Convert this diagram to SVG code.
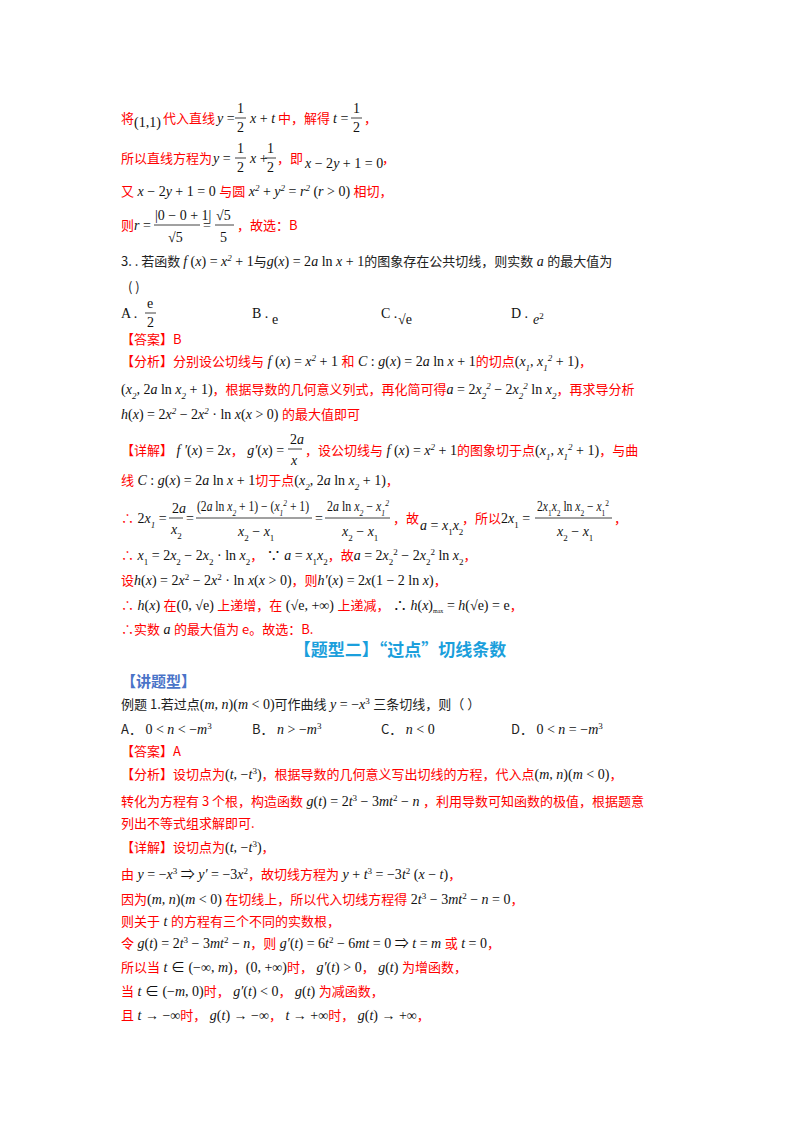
<svg xmlns="http://www.w3.org/2000/svg" width="800" height="1132" viewBox="0 0 800 1132">
<style>
text{font-family:"Noto Sans CJK SC","Liberation Sans",sans-serif;font-size:13px}
.r{fill:#ff0000}
.k{fill:#222}
.m{font-family:"Liberation Serif","Noto Sans CJK SC",serif;font-style:italic;fill:#111;font-size:14px}
.n{font-style:normal}
.s{font-size:9px;baseline-shift:sub}
.p{font-size:9px;baseline-shift:super}
.fl{stroke:#111;stroke-width:0.8}
.h{fill:#1b9fdc;font-weight:bold;font-size:17px}
.b{fill:#4a74c8;font-weight:bold;font-size:15px}
</style>
<rect width="800" height="1132" fill="#fff"/>
<g id="part1">
<text x="121" y="123" class="r">将</text>
<text x="134" y="127" class="m"><tspan class="n">(1,1)</tspan></text>
<text x="163" y="123" class="r">代入直线</text>
<text x="217" y="123" class="m">y <tspan class="n">=</tspan></text>
<text x="237" y="113" class="m n">1</text><line x1="235" y1="118" x2="246" y2="118" class="fl"/><text x="237" y="132" class="m n">2</text>
<text x="250" y="123" class="m">x <tspan class="n">+</tspan> t</text>
<text x="278" y="123" class="r">中，解得</text>
<text x="333" y="123" class="m">t <tspan class="n">=</tspan></text>
<text x="353" y="113" class="m n">1</text><line x1="351" y1="118" x2="362" y2="118" class="fl"/><text x="353" y="132" class="m n">2</text>
<text x="364" y="123" class="r">，</text>

<text x="121" y="163" class="r">所以直线方程为</text>
<text x="213" y="163" class="m">y <tspan class="n">=</tspan></text>
<text x="237" y="153" class="m n">1</text><line x1="235" y1="158" x2="246" y2="158" class="fl"/><text x="237" y="172" class="m n">2</text>
<text x="250" y="163" class="m">x <tspan class="n">+</tspan></text>
<text x="267" y="153" class="m n">1</text><line x1="265" y1="158" x2="276" y2="158" class="fl"/><text x="267" y="172" class="m n">2</text>
<text x="277" y="163" class="r">，即</text>
<text x="305" y="168" class="m">x <tspan class="n">− 2</tspan>y <tspan class="n">+ 1 = 0</tspan></text>
<text x="382" y="163" class="r">，</text>

<text x="121" y="196" class="r">又<tspan class="m"> x <tspan class="n">− 2</tspan>y <tspan class="n">+ 1 = 0 </tspan></tspan>与圆<tspan class="m"> x<tspan class="p">2</tspan> <tspan class="n">+</tspan> y<tspan class="p">2</tspan> <tspan class="n">=</tspan> r<tspan class="p">2</tspan> <tspan class="n">(</tspan>r <tspan class="n">&gt; 0) </tspan></tspan>相切，</text>

<text x="121" y="230" class="r">则</text>
<text x="134" y="230" class="m">r <tspan class="n">=</tspan></text>
<text x="155" y="220" class="m n">|0 − 0 + 1|</text><line x1="154" y1="225" x2="200" y2="225" class="fl"/><text x="168" y="242" class="m n">√5</text>
<text x="203" y="230" class="m n">=</text>
<text x="216" y="220" class="m n">√5</text><line x1="215" y1="225" x2="234" y2="225" class="fl"/><text x="220" y="242" class="m n">5</text>
<text x="237" y="230" class="r">，故选：B</text>

<text x="121" y="266" class="k">3. . 若函数 <tspan class="m">f <tspan class="n">(</tspan>x<tspan class="n">) =</tspan> x<tspan class="p">2</tspan> <tspan class="n">+ 1</tspan></tspan>与<tspan class="m">g<tspan class="n">(</tspan>x<tspan class="n">) = 2</tspan>a <tspan class="n">ln </tspan>x <tspan class="n">+ 1</tspan></tspan>的图象存在公共切线，则实数<tspan class="m"> a </tspan>的最大值为</text>
<text x="128" y="292" class="k">(       )</text>

<text x="121" y="318" class="m n">A .</text>
<text x="147" y="308" class="m n">e</text><line x1="145" y1="313" x2="156" y2="313" class="fl"/><text x="147" y="327" class="m n">2</text>
<text x="252" y="318" class="m n">B .</text><text x="272" y="324" class="m n">e</text>
<text x="381" y="318" class="m n">C .</text><text x="398" y="324" class="m n">√e</text>
<text x="511" y="318" class="m n">D .</text><text x="533" y="324" class="m">e<tspan class="p n">2</tspan></text>

<text x="121" y="344" class="r">【答案】B</text>
<text x="121" y="366" class="r">【分析】分别设公切线与<tspan class="m"> f <tspan class="n">(</tspan>x<tspan class="n">) =</tspan> x<tspan class="p">2</tspan> <tspan class="n">+ 1 </tspan></tspan>和<tspan class="m"> C <tspan class="n">:</tspan> g<tspan class="n">(</tspan>x<tspan class="n">) = 2</tspan>a <tspan class="n">ln </tspan>x <tspan class="n">+ 1</tspan></tspan>的切点<tspan class="m"><tspan class="n">(</tspan>x<tspan class="s">1</tspan>, x<tspan class="s">1</tspan><tspan class="p">2</tspan> <tspan class="n">+ 1)</tspan></tspan>，</text>
<text x="121" y="394" class="r"><tspan class="m"><tspan class="n">(</tspan>x<tspan class="s">2</tspan>, <tspan class="n">2</tspan>a <tspan class="n">ln </tspan>x<tspan class="s">2</tspan> <tspan class="n">+ 1)</tspan></tspan>，根据导数的几何意义列式，再化简可得<tspan class="m">a <tspan class="n">= 2</tspan>x<tspan class="s">2</tspan><tspan class="p">2</tspan> <tspan class="n">− 2</tspan>x<tspan class="s">2</tspan><tspan class="p">2</tspan> <tspan class="n">ln </tspan>x<tspan class="s">2</tspan></tspan>，再求导分析</text>
<text x="121" y="419" class="r"><tspan class="m">h<tspan class="n">(</tspan>x<tspan class="n">) = 2</tspan>x<tspan class="p">2</tspan> <tspan class="n">− 2</tspan>x<tspan class="p">2</tspan> <tspan class="n">· ln </tspan>x<tspan class="n">(</tspan>x <tspan class="n">&gt; 0) </tspan></tspan>的最大值即可</text>

<text x="121" y="455" class="r">【详解】<tspan class="m"> f ′<tspan class="n">(</tspan>x<tspan class="n">) = 2</tspan>x</tspan>，<tspan class="m">  g′<tspan class="n">(</tspan>x<tspan class="n">) =</tspan></tspan></text>
<text x="290" y="444" class="m"><tspan class="n">2</tspan>a</text><line x1="288" y1="449" x2="302" y2="449" class="fl"/><text x="291" y="465" class="m">x</text>
<text x="305" y="455" class="r">，设公切线与<tspan class="m"> f <tspan class="n">(</tspan>x<tspan class="n">) =</tspan> x<tspan class="p">2</tspan> <tspan class="n">+ 1</tspan></tspan>的图象切于点<tspan class="m"><tspan class="n">(</tspan>x<tspan class="s">1</tspan>, x<tspan class="s">1</tspan><tspan class="p">2</tspan> <tspan class="n">+ 1)</tspan></tspan>，与曲</text>
<text x="121" y="485" class="r">线<tspan class="m"> C <tspan class="n">:</tspan> g<tspan class="n">(</tspan>x<tspan class="n">) = 2</tspan>a <tspan class="n">ln </tspan>x <tspan class="n">+ 1</tspan></tspan>切于点<tspan class="m"><tspan class="n">(</tspan>x<tspan class="s">2</tspan>, <tspan class="n">2</tspan>a <tspan class="n">ln </tspan>x<tspan class="s">2</tspan> <tspan class="n">+ 1)</tspan></tspan>，</text>

<text x="121" y="523" class="r">∴<tspan class="m"> <tspan class="n">2</tspan>x<tspan class="s">1</tspan> <tspan class="n">=</tspan></tspan></text>
<text x="172" y="513" class="m"><tspan class="n">2</tspan>a</text><line x1="169" y1="518" x2="183" y2="518" class="fl"/><text x="171" y="534" class="m">x<tspan class="s n">2</tspan></text>
<text x="186" y="523" class="m n">=</text>
<text x="197" y="511" class="m" textLength="112" lengthAdjust="spacingAndGlyphs"><tspan class="n">(2</tspan>a <tspan class="n">ln </tspan>x<tspan class="s">2</tspan> <tspan class="n">+ 1) − (</tspan>x<tspan class="s">1</tspan><tspan class="p">2</tspan> <tspan class="n">+ 1)</tspan></text><line x1="196" y1="518" x2="312" y2="518" class="fl"/><text x="238" y="536" class="m">x<tspan class="s n">2</tspan><tspan class="n"> − </tspan>x<tspan class="s n">1</tspan></text>
<text x="315" y="523" class="m n">=</text>
<text x="327" y="511" class="m" textLength="62" lengthAdjust="spacingAndGlyphs"><tspan class="n">2</tspan>a <tspan class="n">ln </tspan>x<tspan class="s">2</tspan> <tspan class="n">− </tspan>x<tspan class="s">1</tspan><tspan class="p">2</tspan></text><line x1="325" y1="518" x2="390" y2="518" class="fl"/><text x="342" y="536" class="m">x<tspan class="s n">2</tspan><tspan class="n"> − </tspan>x<tspan class="s n">1</tspan></text>
<text x="393" y="523" class="r">，故</text>
<text x="420" y="530" class="m">a <tspan class="n">=</tspan> x<tspan class="s n">1</tspan>x<tspan class="s n">2</tspan></text>
<text x="462" y="523" class="r">，所以<tspan class="m"><tspan class="n">2</tspan>x<tspan class="s n">1</tspan> <tspan class="n">=</tspan></tspan></text>
<text x="537" y="511" class="m" textLength="72" lengthAdjust="spacingAndGlyphs"><tspan class="n">2</tspan>x<tspan class="s n">1</tspan>x<tspan class="s n">2</tspan> <tspan class="n">ln </tspan>x<tspan class="s n">2</tspan> <tspan class="n">− </tspan>x<tspan class="s n">1</tspan><tspan class="p n">2</tspan></text><line x1="535" y1="518" x2="612" y2="518" class="fl"/><text x="557" y="536" class="m">x<tspan class="s n">2</tspan><tspan class="n"> − </tspan>x<tspan class="s n">1</tspan></text>
<text x="614" y="523" class="r">，</text>

<text x="121" y="560" class="r">∴<tspan class="m"> x<tspan class="s n">1</tspan> <tspan class="n">= 2</tspan>x<tspan class="s n">2</tspan> <tspan class="n">− 2</tspan>x<tspan class="s n">2</tspan> <tspan class="n">· ln </tspan>x<tspan class="s n">2</tspan></tspan>，<tspan class="m"> <tspan class="n">∵</tspan> a <tspan class="n">=</tspan> x<tspan class="s n">1</tspan>x<tspan class="s n">2</tspan></tspan>，故<tspan class="m">a <tspan class="n">= 2</tspan>x<tspan class="s n">2</tspan><tspan class="p n">2</tspan> <tspan class="n">− 2</tspan>x<tspan class="s n">2</tspan><tspan class="p n">2</tspan> <tspan class="n">ln </tspan>x<tspan class="s n">2</tspan></tspan>，</text>
<text x="121" y="585" class="r">设<tspan class="m">h<tspan class="n">(</tspan>x<tspan class="n">) = 2</tspan>x<tspan class="p n">2</tspan> <tspan class="n">− 2</tspan>x<tspan class="p n">2</tspan> <tspan class="n">· ln </tspan>x<tspan class="n">(</tspan>x <tspan class="n">&gt; 0)</tspan></tspan>，则<tspan class="m">h′<tspan class="n">(</tspan>x<tspan class="n">) = 2</tspan>x<tspan class="n">(1 − 2 ln </tspan>x<tspan class="n">)</tspan></tspan>，</text>
<text x="121" y="610" class="r">∴<tspan class="m"> h<tspan class="n">(</tspan>x<tspan class="n">) </tspan></tspan>在<tspan class="m n">(0, √e) </tspan>上递增，在<tspan class="m n"> (√e, +∞) </tspan>上递减，<tspan class="m"> <tspan class="n">∴</tspan> h<tspan class="n">(</tspan>x<tspan class="n">)</tspan><tspan class="s n" style="font-size:6px">max</tspan> <tspan class="n">=</tspan> h<tspan class="n">(√e) = e</tspan></tspan>，</text>
<text x="121" y="634" class="r">∴实数<tspan class="m"> a </tspan>的最大值为 e。故选：B.</text>
</g>

<g id="part2">
<text x="400" y="656" text-anchor="middle" class="h">【题型二】“过点”切线条数</text>
<text x="121" y="687" class="b">【讲题型】</text>
<text x="121" y="709" class="k">例题 1.若过点<tspan class="m"><tspan class="n">(</tspan>m, n<tspan class="n">)(</tspan>m <tspan class="n">&lt; 0)</tspan></tspan>可作曲线<tspan class="m"> y <tspan class="n">= −</tspan>x<tspan class="p n">3</tspan> </tspan>三条切线，则（       ）</text>
<text x="121" y="734" class="k">A．<tspan class="m"> <tspan class="n">0 &lt;</tspan> n <tspan class="n">&lt; −</tspan>m<tspan class="p n">3</tspan></tspan></text>
<text x="252" y="734" class="k">B．<tspan class="m"> n <tspan class="n">&gt; −</tspan>m<tspan class="p n">3</tspan></tspan></text>
<text x="381" y="734" class="k">C．<tspan class="m"> n <tspan class="n">&lt; 0</tspan></tspan></text>
<text x="511" y="734" class="k">D．<tspan class="m"> <tspan class="n">0 &lt;</tspan> n <tspan class="n">= −</tspan>m<tspan class="p n">3</tspan></tspan></text>
<text x="121" y="756" class="r">【答案】A</text>
<text x="121" y="779" class="r">【分析】设切点为<tspan class="m"><tspan class="n">(</tspan>t, <tspan class="n">−</tspan>t<tspan class="p n">3</tspan><tspan class="n">)</tspan></tspan>，根据导数的几何意义写出切线的方程，代入点<tspan class="m"><tspan class="n">(</tspan>m, n<tspan class="n">)(</tspan>m <tspan class="n">&lt; 0)</tspan></tspan>，</text>
<text x="121" y="806" class="r">转化为方程有 3 个根，构造函数<tspan class="m"> g<tspan class="n">(</tspan>t<tspan class="n">) = 2</tspan>t<tspan class="p n">3</tspan> <tspan class="n">− 3</tspan>mt<tspan class="p n">2</tspan> <tspan class="n">−</tspan> n </tspan>，利用导数可知函数的极值，根据题意</text>
<text x="121" y="828" class="r">列出不等式组求解即可.</text>
<text x="121" y="852" class="r">【详解】设切点为<tspan class="m"><tspan class="n">(</tspan>t, <tspan class="n">−</tspan>t<tspan class="p n">3</tspan><tspan class="n">)</tspan></tspan>，</text>
<text x="121" y="879" class="r">由<tspan class="m"> y <tspan class="n">= −</tspan>x<tspan class="p n">3</tspan> <tspan class="n">⇒</tspan> y′ <tspan class="n">= −3</tspan>x<tspan class="p n">2</tspan></tspan>，故切线方程为<tspan class="m"> y <tspan class="n">+</tspan> t<tspan class="p n">3</tspan> <tspan class="n">= −3</tspan>t<tspan class="p n">2</tspan> <tspan class="n">(</tspan>x <tspan class="n">−</tspan> t<tspan class="n">)</tspan></tspan>，</text>
<text x="121" y="904" class="r">因为<tspan class="m"><tspan class="n">(</tspan>m, n<tspan class="n">)(</tspan>m <tspan class="n">&lt; 0) </tspan></tspan>在切线上，所以代入切线方程得<tspan class="m"> <tspan class="n">2</tspan>t<tspan class="p n">3</tspan> <tspan class="n">− 3</tspan>mt<tspan class="p n">2</tspan> <tspan class="n">−</tspan> n <tspan class="n">= 0</tspan></tspan>，</text>
<text x="121" y="926" class="r">则关于<tspan class="m"> t </tspan>的方程有三个不同的实数根，</text>
<text x="121" y="948" class="r">令<tspan class="m"> g<tspan class="n">(</tspan>t<tspan class="n">) = 2</tspan>t<tspan class="p n">3</tspan> <tspan class="n">− 3</tspan>mt<tspan class="p n">2</tspan> <tspan class="n">−</tspan> n</tspan>，则<tspan class="m"> g′<tspan class="n">(</tspan>t<tspan class="n">) = 6</tspan>t<tspan class="p n">2</tspan> <tspan class="n">− 6</tspan>mt <tspan class="n">= 0 ⇒</tspan> t <tspan class="n">=</tspan> m </tspan>或<tspan class="m"> t <tspan class="n">= 0</tspan></tspan>，</text>
<text x="121" y="972" class="r">所以当<tspan class="m"> t <tspan class="n">∈ (−∞,</tspan> m<tspan class="n">)</tspan></tspan>，<tspan class="m n">(0, +∞)</tspan>时，<tspan class="m"> g′<tspan class="n">(</tspan>t<tspan class="n">) &gt; 0</tspan></tspan>，<tspan class="m"> g<tspan class="n">(</tspan>t<tspan class="n">) </tspan></tspan>为增函数，</text>
<text x="121" y="996" class="r">当<tspan class="m"> t <tspan class="n">∈ (−</tspan>m<tspan class="n">, 0)</tspan></tspan>时，<tspan class="m"> g′<tspan class="n">(</tspan>t<tspan class="n">) &lt; 0</tspan></tspan>，<tspan class="m"> g<tspan class="n">(</tspan>t<tspan class="n">) </tspan></tspan>为减函数，</text>
<text x="121" y="1020" class="r">且<tspan class="m"> t <tspan class="n">→ −∞</tspan></tspan>时，<tspan class="m"> g<tspan class="n">(</tspan>t<tspan class="n">) → −∞</tspan></tspan>，<tspan class="m"> t <tspan class="n">→ +∞</tspan></tspan>时，<tspan class="m"> g<tspan class="n">(</tspan>t<tspan class="n">) → +∞</tspan></tspan>，</text>
</g>
</svg>
